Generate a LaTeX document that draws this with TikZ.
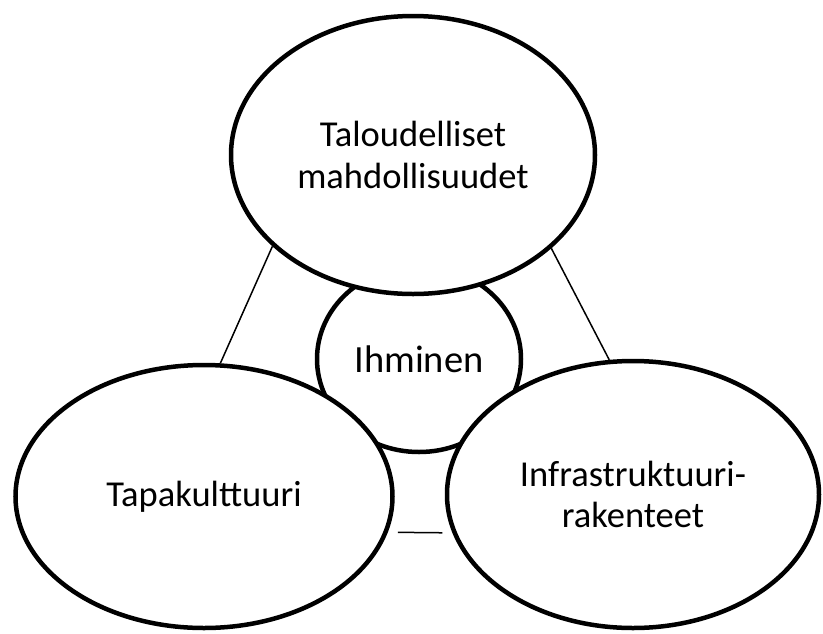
\documentclass[tikz,border=0pt]{standalone}
\usepackage{fontspec}
\setmainfont{Carlito}
\usetikzlibrary{shapes.geometric}
\begin{document}
\begin{tikzpicture}[x=1pt,y=-1pt,
  bubble/.style={ellipse, draw=black, fill=white, line width=4.5pt, inner sep=0pt, align=center,
    font=\fontsize{36.5}{41.5}\selectfont},
  link/.style={draw=black, line width=1.5pt}]
\useasboundingbox (0,0) rectangle (823,633);
\node[bubble, minimum width=204pt, minimum height=186pt, font=\fontsize{38.5}{44}\selectfont] (ihm) at (419,359) {Ihminen};
\node[bubble, minimum width=364pt, minimum height=278pt] (top) at (413,155) {Taloudelliset\\mahdollisuudet};
\node[bubble, minimum width=377pt, minimum height=263pt] (left) at (204,496.5) {Tapakulttuuri};
\node[bubble, minimum width=372pt, minimum height=267pt] (right) at (633,494.5) {Infrastruktuuri-\\rakenteet};
\draw[link] (top.213.3) -- (left.83.6);
\draw[link] (top.326.5) -- (right.100.1);
\draw[link, shorten <=10pt, shorten >=10pt] (left.-11) -- (right.192);
\end{tikzpicture}
\end{document}
